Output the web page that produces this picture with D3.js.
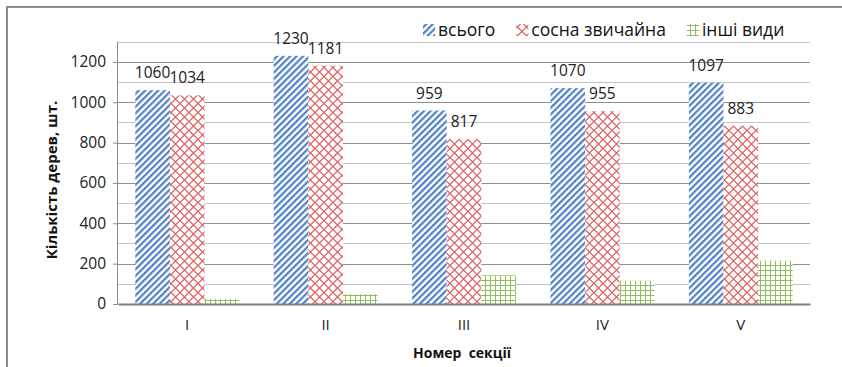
<!DOCTYPE html>
<html><head><meta charset="utf-8">
<script src="https://cdn.jsdelivr.net/npm/d3@7"></script>
<style>
body{margin:0;background:#fff;}
svg{display:block;font-family:"Open Sans","Noto Sans",sans-serif;}
</style></head>
<body><svg id="c" width="842" height="367"></svg>
<script>
const categories = ["I","II","III","IV","V"];
const seriesNames = ["всього","сосна звичайна","інші види"];
const total = [1060,1230,959,1070,1097];
const pine = [1034,1181,817,955,883];
const other = [26,49,142,115,214];
const yTicks = [0,200,400,600,800,1000,1200];
const yTitle = "Кількість дерев, шт.";
const xTitle = "Номер  секції";

const values = [total, pine, other];
const labelled = [true, true, false];

const svg = d3.select("#c");
const W = 842, H = 367;
const m = {l:118, r:32, t:41.7, b:63};
const x0 = d3.scaleBand().domain(categories).range([m.l, W - m.r]).padding(0);
const x1 = d3.scaleBand().domain(seriesNames).range([0, x0.bandwidth()]).paddingInner(0).paddingOuter(0.5);
const y = d3.scaleLinear().domain([0,1300]).range([H - m.b, m.t]);

// patterns
const defs = svg.append("defs");
const pBlue = defs.append("pattern").attr("id","pBlue").attr("patternUnits","userSpaceOnUse")
  .attr("width",4.6).attr("height",4.6).attr("patternTransform","rotate(45)");
pBlue.append("rect").attr("width",4.6).attr("height",4.6).attr("fill","#fff");
pBlue.append("rect").attr("x",0).attr("y",0).attr("width",2.2).attr("height",4.6).attr("fill","#4f81c6");

const pRed = defs.append("pattern").attr("id","pRed").attr("patternUnits","userSpaceOnUse")
  .attr("width",9).attr("height",9);
pRed.append("rect").attr("width",9).attr("height",9).attr("fill","#fff");
pRed.append("path").attr("d","M0,4.5 L4.5,0 L9,4.5 L4.5,9 Z").attr("fill","none").attr("stroke","#e05a5a").attr("stroke-width",1.1);

const pGreen = defs.append("pattern").attr("id","pGreen").attr("patternUnits","userSpaceOnUse")
  .attr("width",5).attr("height",5);
pGreen.append("rect").attr("width",5).attr("height",5).attr("fill","#fff");
pGreen.append("path").attr("d","M0,0.5 H5 M0.5,0 V5").attr("stroke","#8cbf5a").attr("stroke-width",1);
const fills = ["url(#pBlue)","url(#pRed)","url(#pGreen)"];

// frame
svg.append("path").attr("d",`M7,${H} V7 H${W}`).attr("fill","none").attr("stroke","#8c8c8c").attr("stroke-width",2);

// gridlines
const gridVals = d3.range(100,1301,100);
svg.append("g").selectAll("line").data(gridVals).join("line")
  .attr("x1",m.l).attr("x2",W - m.r)
  .attr("y1",d=>Math.round(y(d))+0.5).attr("y2",d=>Math.round(y(d))+0.5)
  .attr("stroke",d=> d%200===0 ? "#8f8f8f" : "#c4c4c4").attr("stroke-width",1);

// y axis
const yAxis = d3.axisLeft(y).tickValues(yTicks).tickSize(5).tickPadding(7).tickFormat(d3.format("d"));
const gy = svg.append("g").attr("transform",`translate(${m.l},0)`).call(yAxis);
gy.select(".domain").attr("stroke","#8c8c8c").attr("d",`M-0.5,${y(0)} V${y(1300)}`);
gy.selectAll(".tick line").attr("stroke","#8c8c8c");
gy.selectAll("text").attr("font-size",15.5).attr("fill","#222").attr("font-family","Open Sans");

// bars
const groups = svg.append("g").selectAll("g").data(seriesNames).join("g");
groups.each(function(s, si){
  d3.select(this).selectAll("rect").data(categories).join("rect")
    .attr("x",(c)=>x0(c)+x1(s))
    .attr("width",x1.bandwidth())
    .attr("y",(c,i)=>y(values[si][i]))
    .attr("height",(c,i)=>y(0)-y(values[si][i]))
    .attr("fill",fills[si]);
});

// x axis
const xAxis = d3.axisBottom(x0).tickSize(0).tickPadding(15);
const gx = svg.append("g").attr("transform",`translate(0,${y(0)})`).call(xAxis);
gx.select(".domain").attr("stroke","#7f7f7f").attr("stroke-width",2);
gx.selectAll("text").attr("font-size",15).attr("fill","#222").attr("font-family","Open Sans");

// value labels
seriesNames.forEach((s,si)=>{
  if(!labelled[si]) return;
  svg.append("g").selectAll("text").data(categories).join("text")
    .attr("x",c=>x0(c)+x1(s)+x1.bandwidth()/2)
    .attr("y",(c,i)=>y(values[si][i]) - 12)
    .attr("text-anchor","middle").attr("font-size",15.5).attr("fill","#222")
    .text((c,i)=>values[si][i]);
});

// titles
svg.append("text").attr("x",462).attr("y",358).attr("text-anchor","middle")
  .attr("font-size",14).attr("font-weight","bold").attr("fill","#111").style("white-space","pre").text(xTitle);
svg.append("text").attr("transform","translate(57,180) rotate(-90)").attr("text-anchor","middle")
  .attr("font-size",15).attr("font-weight","bold").attr("fill","#111").text(yTitle);

// legend
const leg = svg.append("g");
let lx = 423;
seriesNames.forEach((s,si)=>{
  leg.append("rect").attr("x",lx).attr("y",24).attr("width",12).attr("height",12).attr("fill",fills[si]);
  const t = leg.append("text").attr("x",lx+15).attr("y",36).attr("font-size",17.5).attr("fill","#111").text(s);
  lx += 15 + t.node().getComputedTextLength() + 21;
});
</script></body></html>
